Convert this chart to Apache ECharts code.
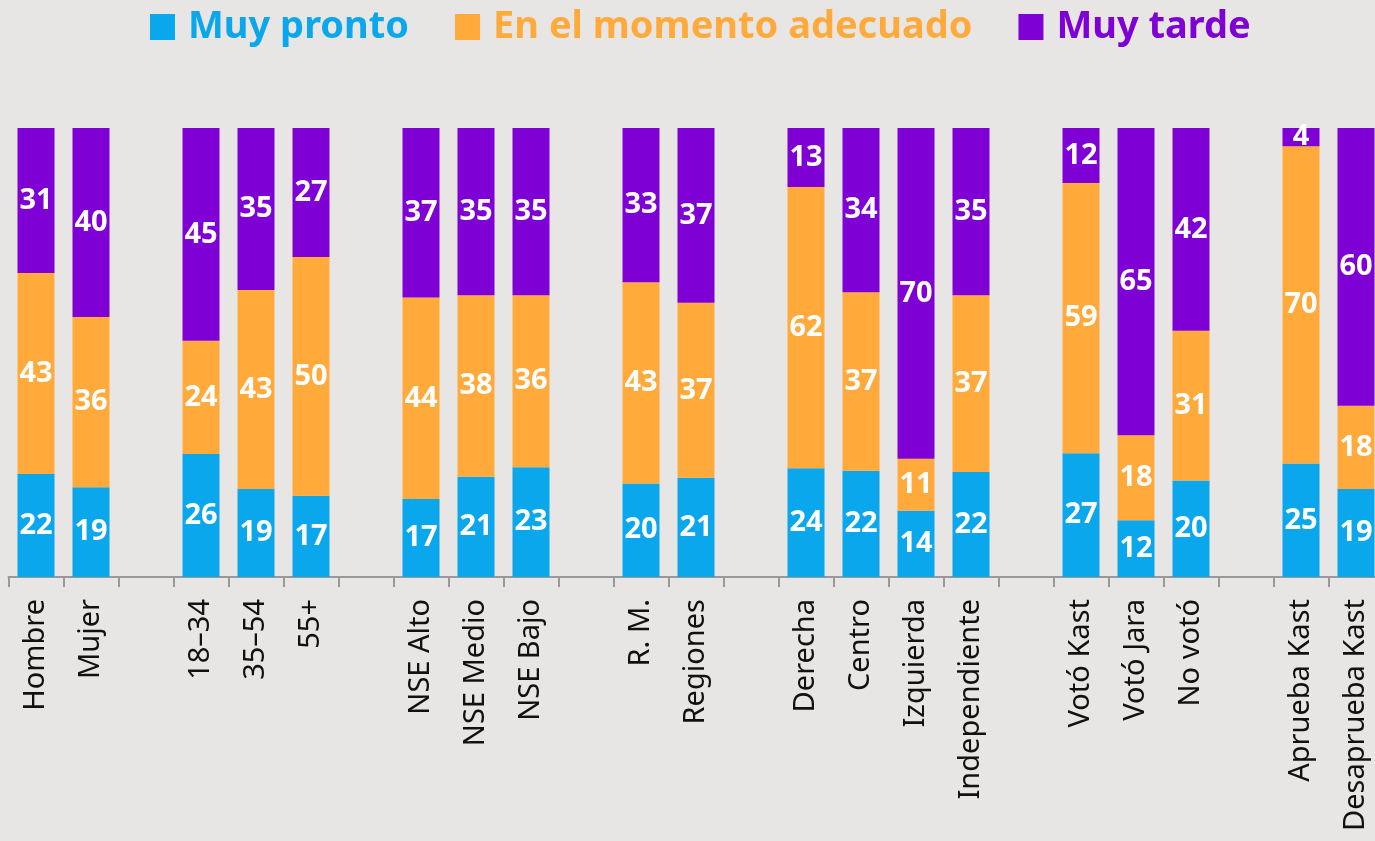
<!DOCTYPE html>
<html>
<head>
<meta charset="utf-8">
<script src="https://cdn.jsdelivr.net/npm/echarts@6/dist/echarts.min.js"></script>
<style>
  html, body { margin: 0; padding: 0; background: #e8e6e4; }
  #chart { width: 1375px; height: 841px; }
</style>
</head>
<body>
<div id="chart"></div>
<script>
// categories, '' = gap between groups
var categories = ['Hombre', 'Mujer', '',
  '18–34', '35–54', '55+', '',
  'NSE Alto', 'NSE Medio', 'NSE Bajo', '',
  'R. M.', 'Regiones', '',
  'Derecha', 'Centro', 'Izquierda', 'Independiente', '',
  'Votó Kast', 'Votó Jara', 'No votó', '',
  'Aprueba Kast', 'Desaprueba Kast'];

var muyPronto = [22, 19, null, 26, 19, 17, null, 17, 21, 23, null, 20, 21, null, 24, 22, 14, 22, null, 27, 12, 20, null, 25, 19];
var adecuado  = [43, 36, null, 24, 43, 50, null, 44, 38, 36, null, 43, 37, null, 62, 37, 11, 37, null, 59, 18, 31, null, 70, 18];
var muyTarde  = [31, 40, null, 45, 35, 27, null, 37, 35, 35, null, 33, 37, null, 13, 34, 70, 35, null, 12, 65, 42, null, 4, 60];

var seriesNames = ['Muy pronto', 'En el momento adecuado', 'Muy tarde'];
var colors = ['#0aa7ec', '#ffaa3a', '#7e00d5'];

// each bar is drawn as 100% of its total
function normalize(arr) {
  return arr.map(function (v, i) {
    if (v == null) return { value: '-', raw: '' };
    var total = muyPronto[i] + adecuado[i] + muyTarde[i];
    return { value: v / total * 100, raw: v };
  });
}

var allData = [muyPronto, adecuado, muyTarde];

var series = allData.map(function (arr, k) {
  return {
    name: seriesNames[k],
    type: 'bar',
    stack: 'total',
    barWidth: 37,
    itemStyle: { color: colors[k] },
    label: {
      show: true,
      position: 'inside',
      color: '#fff',
      fontFamily: 'Noto Sans',
      fontWeight: 'bold',
      fontSize: 29,
      formatter: function (p) { return p.data.raw; }
    },
    data: normalize(arr)
  };
});

var option = {
  backgroundColor: '#e8e6e4',
  animation: false,
  legend: {
    left: 150,
    top: 8,
    padding: 0,
    icon: 'rect',
    itemWidth: 25,
    itemHeight: 26,
    itemGap: 46,
    data: seriesNames.map(function (n, k) {
      return { name: n, textStyle: { color: colors[k] } };
    }),
    textStyle: {
      fontFamily: 'Noto Sans',
      fontWeight: 'bold',
      fontSize: 38,
      padding: [0, 0, 0, 8]
    }
  },
  grid: {
    left: 8.5,
    top: 128,
    width: 1375,
    bottom: 264,
    outerBoundsMode: 'none'
  },
  xAxis: {
    type: 'category',
    data: categories,
    axisLine: { lineStyle: { color: '#999', width: 2 } },
    axisTick: { show: true, length: 10, lineStyle: { color: '#999', width: 2 } },
    axisLabel: {
      interval: 0,
      rotate: 90,
      margin: 22,
      color: '#111',
      fontFamily: 'Noto Sans',
      fontSize: 29
    }
  },
  yAxis: {
    type: 'value',
    min: 0,
    max: 100,
    show: false
  },
  series: series
};

var chart = echarts.init(document.getElementById('chart'));
chart.setOption(option);
</script>
</body>
</html>
